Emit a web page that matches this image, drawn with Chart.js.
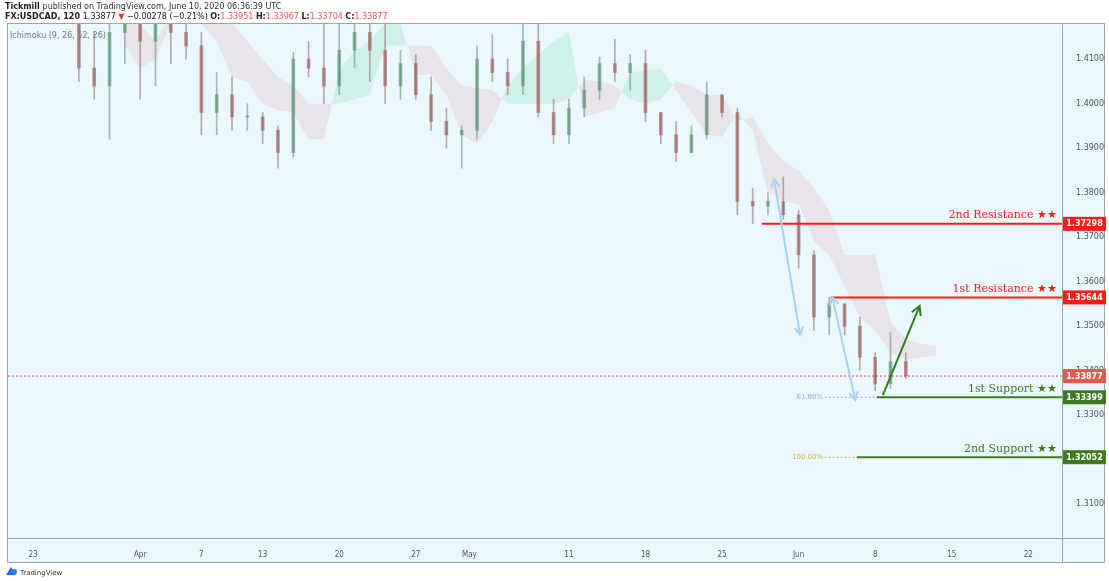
<!DOCTYPE html>
<html><head><meta charset="utf-8">
<script src="https://cdn.jsdelivr.net/npm/chart.js@4"></script>
<style>html,body{margin:0;padding:0;background:#fff}#w{position:relative;width:1109px;height:581px}</style>
</head><body><div id="w"><canvas id="c" width="1109" height="581"></canvas></div>
<script>
// day index 0 = Mar 23 2020 (trading days)
const opens  = [1.448,1.438,1.433,1.423,1.408,1.404,1.416,1.420,1.414,1.418,1.416,1.413,1.398,1.402,1.397,1.397,1.394,1.389,1.410,1.408,1.404,1.412,1.416,1.412,1.404,1.409,1.402,1.396,1.393,1.394,1.410,1.407,1.404,1.414,1.398,1.393,1.399,1.403,1.409,1.407,1.409,1.398,1.393,1.389,1.393,1.402,1.398,1.378,1.377,1.378,1.375,1.366,1.352,1.355,1.350,1.343,1.337,1.342];
const highs  = [1.453,1.446,1.440,1.428,1.416,1.420,1.425,1.424,1.423,1.426,1.424,1.416,1.407,1.406,1.400,1.398,1.395,1.4115,1.414,1.418,1.418,1.422,1.422,1.418,1.412,1.411,1.406,1.399,1.395,1.413,1.4155,1.410,1.418,1.419,1.401,1.401,1.406,1.4105,1.4145,1.411,1.412,1.398,1.396,1.395,1.4048,1.402,1.399,1.381,1.380,1.3835,1.376,1.367,1.3565,1.355,1.352,1.344,1.3485,1.344];
const lows   = [1.432,1.426,1.421,1.405,1.401,1.392,1.409,1.401,1.404,1.409,1.410,1.393,1.393,1.394,1.394,1.391,1.3855,1.388,1.406,1.400,1.402,1.408,1.405,1.400,1.401,1.401,1.394,1.390,1.3855,1.392,1.405,1.402,1.402,1.397,1.391,1.391,1.397,1.401,1.405,1.403,1.396,1.391,1.387,1.389,1.392,1.397,1.375,1.373,1.375,1.374,1.363,1.349,1.348,1.348,1.340,1.3355,1.336,1.3382];
const closes = [1.438,1.433,1.425,1.408,1.404,1.416,1.420,1.414,1.418,1.416,1.413,1.398,1.402,1.397,1.397,1.394,1.389,1.410,1.408,1.404,1.412,1.416,1.412,1.404,1.409,1.402,1.396,1.393,1.394,1.410,1.407,1.404,1.414,1.398,1.393,1.399,1.403,1.409,1.407,1.409,1.398,1.393,1.389,1.393,1.402,1.398,1.378,1.377,1.378,1.375,1.366,1.352,1.355,1.350,1.343,1.337,1.342,1.33877];
// Ichimoku cloud spans, index -1..59
const cloudStart = -1;
const spanA = [1.419,null,null,null,null,null,null,1.413,1.408,1.410,1.418,1.418,1.418,1.414,1.406,1.405,1.400,1.3985,1.398,1.392,1.392,1.4075,1.412,1.414,1.418,1.418,1.4065,1.4065,1.402,1.393,1.391,1.396,1.404,1.408,1.411,1.414,1.416,1.397,1.398,1.399,1.407,1.4075,1.408,1.403,1.398,1.393,1.3925,1.398,1.394,1.380,1.378,1.3775,1.369,1.366,1.359,1.352,1.349,1.344,1.3424,1.343,1.3435];
const spanB = [1.410,null,null,null,null,null,null,1.418,1.418,1.414,1.420,1.420,1.420,1.419,1.418,1.414,1.410,1.406,1.404,1.400,1.400,1.400,1.401,1.402,1.413,1.413,1.413,1.413,1.408,1.404,1.4035,1.403,1.400,1.400,1.400,1.400,1.401,1.4053,1.405,1.404,1.401,1.400,1.401,1.405,1.404,1.402,1.402,1.396,1.397,1.391,1.387,1.385,1.381,1.376,1.366,1.366,1.366,1.351,1.3469,1.346,1.3455];
const tickPositions = [0,7,11,15,20,25,28.5,35,40,45,50,55,60,65];
const tickLabels = ['23','Apr','7','13','20','27','May','11','18','25','Jun','8','15','22'];
const priceTicks = [1.31,1.32,1.33,1.34,1.35,1.36,1.37,1.38,1.39,1.40,1.41];
const levelNames = ['2nd Resistance ★★','1st Resistance ★★','1st Support ★★','2nd Support ★★'];
const levelValues = [1.37298,1.35644,1.33399,1.32052];
const levelStart = [47.6,52.1,55.1,53.8];
const lastPrice = 1.33877;

const X0=-1.63, X1=67.2;
const bodies = opens.map((o,i)=>({x:i,y:[o,closes[i]]}));
const wicks = highs.map((h,i)=>({x:i,y:[lows[i],h]}));
const bodyCol = opens.map((o,i)=>closes[i]>=o?'rgba(80,140,105,0.6)':'rgba(150,85,80,0.6)');
const wickCol = opens.map((o,i)=>closes[i]>=o?'rgba(110,145,125,0.6)':'rgba(145,115,115,0.6)');
const cA = spanA.map((v,i)=>({x:cloudStart+i,y:v}));
const cB = spanB.map((v,i)=>({x:cloudStart+i,y:v}));

function arrowHead(ctx,x1,y1,x2,y2,len){
  const a=Math.atan2(y2-y1,x2-x1);
  ctx.beginPath();
  ctx.moveTo(x2-len*Math.cos(a-0.5),y2-len*Math.sin(a-0.5));
  ctx.lineTo(x2,y2);
  ctx.lineTo(x2-len*Math.cos(a+0.5),y2-len*Math.sin(a+0.5));
  ctx.stroke();
}
const deco = {
  id:'deco',
  beforeDraw(ch){
    const c=ch.ctx,a=ch.chartArea;
    c.save();
    c.fillStyle='#fff';c.fillRect(0,0,1109,581);
    c.fillStyle='#eaf8fd';
    c.fillRect(a.left,a.top,1105-a.left,563-a.top);
    c.strokeStyle='#9aa6ad';c.lineWidth=1;
    c.strokeRect(a.left-0.5,a.top-0.5,1105-a.left,563-a.top);
    c.beginPath();c.moveTo(a.right+0.5,a.top);c.lineTo(a.right+0.5,563);
    c.moveTo(a.left,a.bottom+0.5);c.lineTo(1105,a.bottom+0.5);c.stroke();
    c.restore();
  },
  afterDatasetsDraw(ch){
    const c=ch.ctx,a=ch.chartArea,xs=ch.scales.x,ys=ch.scales.y;
    const X=v=>xs.getPixelForValue(v),Y=v=>ys.getPixelForValue(v);
    c.save();
    c.strokeStyle='#e0443a';c.lineWidth=1;c.setLineDash([2,2]);
    c.beginPath();c.moveTo(a.left,Y(lastPrice));c.lineTo(a.right,Y(lastPrice));c.stroke();
    c.strokeStyle='#a9a6d8';c.beginPath();c.moveTo(X(51.7),Y(levelValues[2]));c.lineTo(X(55.1),Y(levelValues[2]));c.stroke();
    c.strokeStyle='#d4b23a';c.beginPath();c.moveTo(X(51.7),Y(levelValues[3]));c.lineTo(X(53.8),Y(levelValues[3]));c.stroke();
    c.setLineDash([]);
    c.font='7px "DejaVu Sans"';c.textAlign='right';c.textBaseline='middle';
    c.fillStyle='#a9a6d8';c.fillText('61.80%',X(51.6),Y(levelValues[2]));
    c.fillStyle='#d4b23a';c.fillText('100.00%',X(51.6),Y(levelValues[3]));
    levelValues.forEach((v,i)=>{
      const col=i<2?'#ff1a1a':'#3d7a22';
      c.strokeStyle=col;c.lineWidth=2;
      c.beginPath();c.moveTo(X(levelStart[i]),Y(v));c.lineTo(a.right,Y(v));c.stroke();
      c.fillStyle=col;c.font='11px "DejaVu Serif"';c.textAlign='right';c.textBaseline='bottom';
      c.fillText(levelNames[i],a.right-5,Y(v)-3);
    });
    c.strokeStyle='#a7d3f3';c.lineWidth=2;
    const pairs=[[48.4,1.3830,50.1,1.3480],[52.2,1.3565,53.7,1.3334]];
    pairs.forEach(p=>{
      const x1=X(p[0]),y1=Y(p[1]),x2=X(p[2]),y2=Y(p[3]);
      c.beginPath();c.moveTo(x1,y1);c.lineTo(x2,y2);c.stroke();
      arrowHead(c,x2,y2,x1,y1,9);arrowHead(c,x1,y1,x2,y2,9);
    });
    c.strokeStyle='#2f7d1c';c.lineWidth=2;
    const gx1=X(55.5),gy1=Y(1.3345),gx2=X(57.9),gy2=Y(1.3545);
    c.beginPath();c.moveTo(gx1,gy1);c.lineTo(gx2,gy2);c.stroke();
    arrowHead(c,gx1,gy1,gx2,gy2,10);
    const box=(v,bg)=>{const y=Y(v);c.fillStyle=bg;c.fillRect(a.right+1,y-7,43,14);
      c.fillStyle='#fff';c.font='bold 8px "DejaVu Sans"';c.textAlign='center';c.textBaseline='middle';c.fillText(v.toFixed(5),a.right+22.5,y+0.5);};
    box(levelValues[0],'#ff1a1a');box(levelValues[1],'#ff1a1a');
    box(lastPrice,'#e25a4f');box(levelValues[2],'#3d7a22');box(levelValues[3],'#3d7a22');
    c.textAlign='left';c.textBaseline='alphabetic';
    c.fillStyle='#222';c.font='bold 8px "DejaVu Sans"';c.fillText('Tickmill',5,9);
    const w0=c.measureText('Tickmill ').width;
    c.font='8px "DejaVu Sans"';c.fillStyle='#333';c.fillText('published on TradingView.com, June 10, 2020 06:36:39 UTC',5+w0,9);
    let x=5;const seg=(t,col,b)=>{c.font=(b?'bold ':'')+'8px "DejaVu Sans"';c.fillStyle=col;c.fillText(t,x,19);x+=c.measureText(t).width;};
    seg('FX:USDCAD, 120 ','#222',true);seg('1.33877 ','#222');seg('▼ ','#e53935');seg('−0.00278 (−0.21%) ','#222');
    seg('O:','#222',true);seg('1.33951 ','#ef5350');seg('H:','#222',true);seg('1.33967 ','#ef5350');
    seg('L:','#222',true);seg('1.33704 ','#ef5350');seg('C:','#222',true);seg('1.33877','#ef5350');
    c.font='8px "DejaVu Sans"';c.fillStyle='#777';c.fillText('Ichimoku (9, 26, 52, 26)',10,38);
    c.fillStyle='#2962ff';c.beginPath();c.moveTo(6,575);c.lineTo(11,567);c.lineTo(16,575);c.closePath();c.fill();
    c.fillStyle='#1e88e5';c.beginPath();c.arc(14,572,3,0,7);c.fill();
    c.fillStyle='#333';c.font='7px "DejaVu Sans"';c.fillText('TradingView',20,575);
    c.restore();
  }
};

new Chart(document.getElementById('c'),{
  type:'bar',
  data:{datasets:[
    {type:'line',data:cA,borderWidth:0,pointRadius:0,spanGaps:false,fill:{target:1,above:'rgba(150,225,190,0.3)',below:'rgba(232,205,215,0.5)'},order:5},
    {type:'line',data:cB,borderWidth:0,pointRadius:0,spanGaps:false,fill:false,order:5},
    {data:wicks,backgroundColor:wickCol,barThickness:1,grouped:false,order:2},
    {data:bodies,backgroundColor:bodyCol,barThickness:3,grouped:false,order:1,minBarLength:1}
  ]},
  plugins:[deco],
  options:{
    responsive:false,animation:false,
    layout:{padding:{left:8,top:24,right:4,bottom:18}},
    plugins:{legend:{display:false},tooltip:{enabled:false}},
    scales:{
      x:{type:'linear',min:X0,max:X1,offset:false,grid:{display:false},border:{display:false},
        afterBuildTicks:s=>{s.ticks=tickPositions.map(v=>({value:v}));},
        afterFit:s=>{s.height=25;},
        ticks:{autoSkip:false,maxRotation:0,color:'#555',font:{size:8,family:'DejaVu Sans Condensed'},padding:4,
          callback:(v,i)=>tickLabels[i]}},
      y:{position:'right',min:1.30236,max:1.4179,grid:{display:false},border:{display:false},
        afterBuildTicks:s=>{s.ticks=priceTicks.map(v=>({value:v}));},
        afterFit:s=>{s.width=43;},
        ticks:{color:'#555',font:{size:8,family:'DejaVu Sans'},padding:6,callback:v=>v.toFixed(5)}}
    }
  }
});
</script></body></html>
